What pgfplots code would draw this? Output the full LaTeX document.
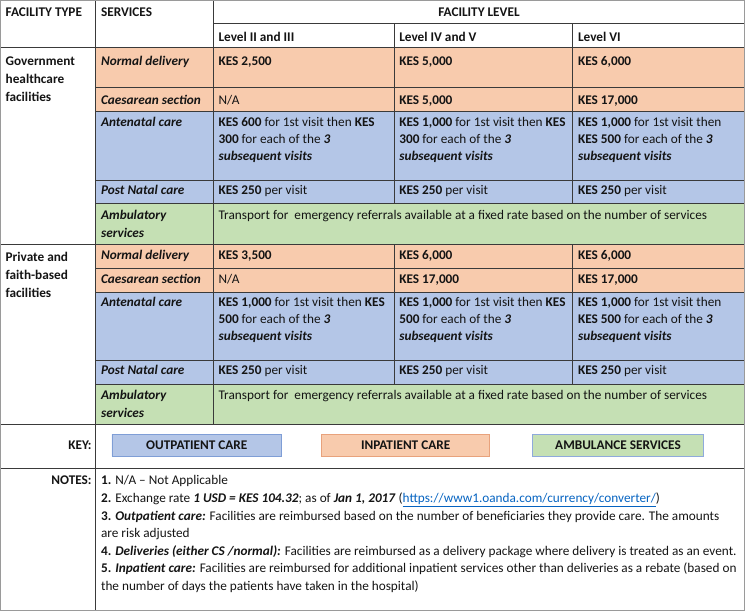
\documentclass[border=0pt]{standalone}
\usepackage{pgfplots}
\pgfplotsset{compat=1.18}
\usepackage{fontspec}
\setmainfont{Carlito}
\definecolor{orng}{HTML}{F8CBAD}
\definecolor{blu}{HTML}{B4C6E7}
\definecolor{grn}{HTML}{C5E0B4}
\definecolor{ln}{HTML}{3A3A3A}
\definecolor{outer}{HTML}{9A9A9A}
\definecolor{bluebord}{HTML}{7F9ED6}
\definecolor{orngbord}{HTML}{E8A27C}
\definecolor{grnbord}{HTML}{8FAADC}
\definecolor{txt}{HTML}{141414}
\definecolor{link}{HTML}{0563C1}
\newcommand{\fs}{\fontsize{13.2}{15}\selectfont}
\newcommand{\T}[3]{\node[anchor=base west,inner sep=0pt,font=\fs,text=txt] at (axis cs:#1,#2) {#3};}
\newcommand{\TR}[3]{\node[anchor=base east,inner sep=0pt,font=\fs,text=txt] at (axis cs:#1,#2) {#3};}
\newcommand{\TC}[3]{\node[anchor=base,inner sep=0pt,font=\fs,text=txt] at (axis cs:#1,#2) {#3};}
\newcommand{\rect}[5]{\addplot[fill=#5,draw=none,forget plot] coordinates {(#1,#2) (#3,#2) (#3,#4) (#1,#4) (#1,#2)};}
\newcommand{\hl}[3]{\addplot[ln,line width=0.9pt,forget plot] coordinates {(#1,#3) (#2,#3)};}
\newcommand{\vl}[3]{\addplot[ln,line width=0.9pt,forget plot] coordinates {(#1,#2) (#1,#3)};}
\newcommand{\bi}[1]{\textbf{\textit{#1}}}
\begin{document}
\begin{tikzpicture}
\begin{axis}[
  width=745pt, height=613pt, scale only axis,
  xmin=0, xmax=745, ymin=0, ymax=613, y dir=reverse,
  hide axis, clip=false]
% row fills
\rect{97}{49}{743}{89}{orng}
\rect{97}{89}{743}{113}{orng}
\rect{97}{113}{743}{181}{blu}
\rect{97}{181}{743}{204}{blu}
\rect{97}{204}{743}{245}{grn}
\rect{97}{245}{743}{269}{orng}
\rect{97}{269}{743}{293}{orng}
\rect{97}{293}{743}{360}{blu}
\rect{97}{360}{743}{384}{blu}
\rect{97}{384}{743}{424}{grn}
% key boxes
\addplot[fill=blu,draw=bluebord,line width=0.8pt,forget plot] coordinates {(113,434) (282,434) (282,456) (113,456) (113,434)};
\addplot[fill=orng,draw=orngbord,line width=0.8pt,forget plot] coordinates {(322,434) (489,434) (489,456) (322,456) (322,434)};
\addplot[fill=grn,draw=grnbord,line width=0.8pt,forget plot] coordinates {(532,434) (702,434) (702,456) (532,456) (532,434)};
% horizontal lines
\hl{214}{743}{25}
\hl{2}{743}{49}
\hl{97}{743}{89}
\hl{97}{743}{113}
\hl{97}{743}{181}
\hl{97}{743}{204}
\hl{2}{743}{245}
\hl{97}{743}{269}
\hl{97}{743}{293}
\hl{97}{743}{360}
\hl{97}{743}{384}
\hl{2}{743}{424}
\hl{2}{743}{468}
% vertical lines
\vl{97}{2}{609}
\vl{214}{2}{424}
\vl{394}{25}{204}
\vl{572}{25}{204}
\vl{394}{245}{384}
\vl{572}{245}{384}
% outer border
\addplot[outer,line width=0.9pt,forget plot] coordinates {(2,2) (743,2) (743,609) (2,609) (2,2)};
% header
\T{7}{18}{\textbf{FACILITY TYPE}}
\T{102}{18}{\textbf{SERVICES}}
\TC{478.5}{18}{\textbf{FACILITY LEVEL}}
\T{219}{42.5}{\textbf{Level II and III}}
\T{399}{42.5}{\textbf{Level IV and V}}
\T{577}{42.5}{\textbf{Level VI}}
% facility type
\T{7}{67}{\textbf{Government}}
\T{7}{85}{\textbf{healthcare}}
\T{7}{103}{\textbf{facilities}}
\T{7}{262}{\textbf{Private and}}
\T{7}{280}{\textbf{faith-based}}
\T{7}{298}{\textbf{facilities}}
% government services
\T{102}{67}{\bi{Normal delivery}}
\T{219}{67}{\textbf{KES 2,500}}
\T{399}{67}{\textbf{KES 5,000}}
\T{577}{67}{\textbf{KES 6,000}}
\T{102}{105.5}{\bi{Caesarean section}}
\T{219}{105.5}{N/A}
\T{399}{105.5}{\textbf{KES 5,000}}
\T{577}{105.5}{\textbf{KES 17,000}}
\T{102}{127.5}{\bi{Antenatal care}}
\T{219}{127.5}{\textbf{KES 600} for 1st visit then \textbf{KES}}
\T{219}{144.5}{\textbf{300} for each of the \bi{3}}
\T{219}{161.5}{\bi{subsequent visits}}
\T{399}{127.5}{\textbf{KES 1,000} for 1st visit then \textbf{KES}}
\T{399}{144.5}{\textbf{300} for each of the \bi{3}}
\T{399}{161.5}{\bi{subsequent visits}}
\T{577}{127.5}{\textbf{KES 1,000} for 1st visit then}
\T{577}{144.5}{\textbf{KES 500} for each of the \bi{3}}
\T{577}{161.5}{\bi{subsequent visits}}
\T{102}{195.5}{\bi{Post Natal care}}
\T{219}{195.5}{\textbf{KES 250} per visit}
\T{399}{195.5}{\textbf{KES 250} per visit}
\T{577}{195.5}{\textbf{KES 250} per visit}
\T{102}{220}{\bi{Ambulatory}}
\T{102}{238}{\bi{services}}
\T{219}{220}{Transport for\ \ emergency referrals available at a fixed rate based on the number of services}
% private services
\T{102}{260}{\bi{Normal delivery}}
\T{219}{260}{\textbf{KES 3,500}}
\T{399}{260}{\textbf{KES 6,000}}
\T{577}{260}{\textbf{KES 6,000}}
\T{102}{283.5}{\bi{Caesarean section}}
\T{219}{283.5}{N/A}
\T{399}{283.5}{\textbf{KES 17,000}}
\T{577}{283.5}{\textbf{KES 17,000}}
\T{102}{307}{\bi{Antenatal care}}
\T{219}{307}{\textbf{KES 1,000} for 1st visit then \textbf{KES}}
\T{219}{324}{\textbf{500} for each of the \bi{3}}
\T{219}{341}{\bi{subsequent visits}}
\T{399}{307}{\textbf{KES 1,000} for 1st visit then \textbf{KES}}
\T{399}{324}{\textbf{500} for each of the \bi{3}}
\T{399}{341}{\bi{subsequent visits}}
\T{577}{307}{\textbf{KES 1,000} for 1st visit then}
\T{577}{324}{\textbf{KES 500} for each of the \bi{3}}
\T{577}{341}{\bi{subsequent visits}}
\T{102}{374.5}{\bi{Post Natal care}}
\T{219}{374.5}{\textbf{KES 250} per visit}
\T{399}{374.5}{\textbf{KES 250} per visit}
\T{577}{374.5}{\textbf{KES 250} per visit}
\T{102}{399}{\bi{Ambulatory}}
\T{102}{417}{\bi{services}}
\T{219}{399}{Transport for\ \ emergency referrals available at a fixed rate based on the number of services}
% key
\TR{93}{449.5}{\textbf{KEY:}}
\TC{197.5}{449.5}{\textbf{OUTPATIENT CARE}}
\TC{405.5}{449.5}{\textbf{INPATIENT CARE}}
\TC{617}{449.5}{\textbf{AMBULANCE SERVICES}}
% notes
\TR{93}{484}{\textbf{NOTES:}}
\T{102}{484}{\textbf{1.} N/A – Not Applicable}
\T{102}{502}{\textbf{2.} Exchange rate \bi{1 USD = KES 104.32}; as of \bi{Jan 1, 2017} (\textcolor{link}{\underline{https://www1.oanda.com/currency/converter/}})}
\T{102}{520}{\textbf{3.} \bi{Outpatient care:} Facilities are reimbursed based on the number of beneficiaries they provide care. The amounts}
\T{102}{537}{are risk adjusted}
\T{102}{554.5}{\textbf{4.} \bi{Deliveries (either CS /normal):} Facilities are reimbursed as a delivery package where delivery is treated as an event.}
\T{102}{572}{\textbf{5.} \bi{Inpatient care:} Facilities are reimbursed for additional inpatient services other than deliveries as a rebate (based on}
\T{102}{590}{the number of days the patients have taken in the hospital)}
\end{axis}
\end{tikzpicture}
\end{document}
